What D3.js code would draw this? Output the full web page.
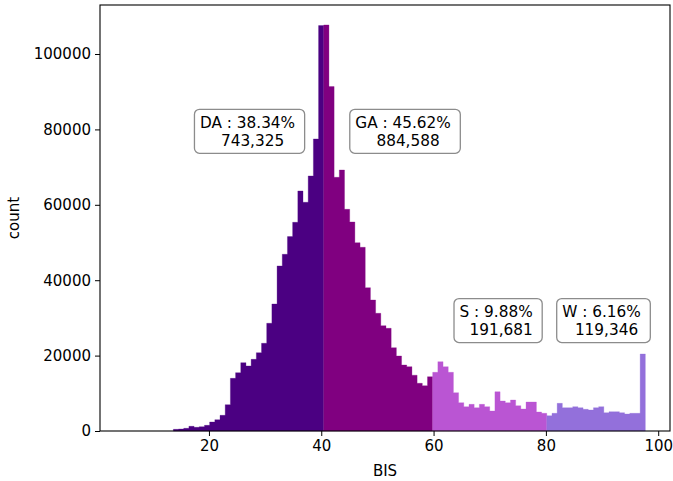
<!DOCTYPE html>
<html lang="en">
<head>
    <meta charset="UTF-8">
    <title>BIS histogram</title>
    <script src="https://cdn.jsdelivr.net/npm/d3@7"></script>
    <style>
        body { margin: 0; background: #fff; }
        svg { font-family: "DejaVu Sans", sans-serif; }
    </style>
</head>
<body>
<svg id="chart" width="673" height="481"></svg>
<script>
    // bin layout of the histogram (BIS units)
    const binStart = 13.66;
    const binWidth = 0.9236;

    // counts per bin, one array per stage
    const daCounts = [440, 530, 710, 1240, 970, 1150, 1500, 2390, 3000, 4160,
                      6990, 13970, 15480, 18130, 17250, 19010, 20780, 23260, 28570, 33690,
                      43780, 46870, 51560, 55360, 63670, 60670, 67650, 77470, 107540];
    const gaCounts = [107710, 91350, 67300, 69240, 58810, 55450, 49960, 48730, 38030, 34750,
                      31220, 27950, 27240, 22110, 19900, 17510, 17070, 14800, 12650, 12030, 14410];
    const sCounts  = [15570, 18390, 17070, 15570, 10170, 7520, 6460, 7070, 6190, 7070,
                      6460, 5310, 10430, 7960, 7520, 8220, 6720, 5840, 7690, 7690, 5040, 4690];
    const wCounts  = [4070, 4690, 7340, 6190, 6190, 6460, 6190, 5750, 5570, 6190,
                      6460, 4860, 5130, 5130, 4860, 4510, 4690, 4690, 20430];

    const stages = ["DA", "GA", "S", "W"];
    const stagePct = [38.34, 45.62, 9.88, 6.16];
    const stageTotal = [743325, 884588, 191681, 119346];

    const xTicks = [20, 40, 60, 80, 100];
    const yTicks = [0, 20000, 40000, 60000, 80000, 100000];

    // where each summary box sits, in data coordinates
    const boxPos = {DA: [27.23, 79500], GA: [54.92, 79500], S: [71.49, 29300], W: [90.26, 29300]};
    const color = {DA: "#4b0082", GA: "#800080", S: "#ba55d3", W: "#9370db"};

    var margin = {top: 5, right: 3, bottom: 50, left: 100},
        width = 673 - margin.left - margin.right,
        height = 481 - margin.top - margin.bottom;

    var svg = d3.select("#chart");
    var g = svg.append("g")
        .attr("transform", "translate(" + margin.left + "," + margin.top + ")");

    var x = d3.scaleLinear().domain([0.6, 102.1]).range([0, width]);
    var y = d3.scaleLinear().domain([0, 113000]).range([height, 0]);

    // flatten the stage arrays into consecutive bins
    var bins = [];
    [daCounts, gaCounts, sCounts, wCounts].forEach(function(arr, s) {
        arr.forEach(function(c) {
            var i = bins.length;
            bins.push({x0: binStart + i * binWidth, x1: binStart + (i + 1) * binWidth, count: c, stage: stages[s]});
        });
    });

    // one stepped area per stage, so neighbouring bars have no seams
    var step = d3.area()
        .x(d => x(d[0]))
        .y0(y(0))
        .y1(d => y(d[1]));

    stages.forEach(function(st) {
        var pts = [];
        bins.filter(b => b.stage === st).forEach(function(b) {
            pts.push([b.x0, b.count], [b.x1, b.count]);
        });
        g.append("path")
            .datum(pts)
            .attr("d", step)
            .attr("fill", color[st])
            .attr("stroke", color[st])
            .attr("stroke-width", 0.3);
    });

    // axes
    var xAxis = g.append("g")
        .attr("transform", "translate(0," + height + ")")
        .call(d3.axisBottom(x).tickValues(xTicks).tickSize(5).tickPadding(4));
    var yAxis = g.append("g")
        .call(d3.axisLeft(y).tickValues(yTicks).tickSize(5).tickPadding(4).tickFormat(d3.format("d")));

    [xAxis, yAxis].forEach(function(a) {
        a.select(".domain").remove();
        a.selectAll("line").attr("stroke", "#000").attr("stroke-width", 1);
        a.selectAll("text")
            .attr("fill", "#000")
            .style("font-size", "15px")
            .style("font-family", "DejaVu Sans, sans-serif");
    });

    // frame
    g.append("rect")
        .attr("x", 0).attr("y", 0)
        .attr("width", width).attr("height", height)
        .attr("fill", "none")
        .attr("stroke", "#000")
        .attr("stroke-width", 1.1);

    svg.append("text")
        .attr("transform", "translate(18.5," + (margin.top + height / 2) + ") rotate(-90)")
        .attr("text-anchor", "middle")
        .style("font-size", "15px")
        .text("count");

    svg.append("text")
        .attr("x", margin.left + width / 2)
        .attr("y", 476)
        .attr("text-anchor", "middle")
        .style("font-size", "15px")
        .text("BIS");

    // summary boxes
    stages.forEach(function(st, i) {
        var p = boxPos[st];
        var box = g.append("g")
            .attr("transform", "translate(" + x(p[0]) + "," + y(p[1]) + ")");
        var rect = box.append("rect")
            .attr("fill", "#fff")
            .attr("stroke", "#8c8c8c")
            .attr("stroke-width", 1.3)
            .attr("rx", 5);
        var t1 = box.append("text")
            .attr("x", -2)
            .attr("y", -3.5)
            .attr("text-anchor", "middle")
            .style("font-size", "15.3px")
            .text(st + " : " + stagePct[i].toFixed(2) + "%");
        box.append("text")
            .attr("x", 3)
            .attr("y", 14.5)
            .attr("text-anchor", "middle")
            .style("font-size", "15.3px")
            .text(d3.format(",")(stageTotal[i]));
        var w = t1.node().getComputedTextLength() + 15;
        rect.attr("x", -w / 2).attr("y", -22).attr("width", w).attr("height", 44);
    });
</script>
</body>
</html>
